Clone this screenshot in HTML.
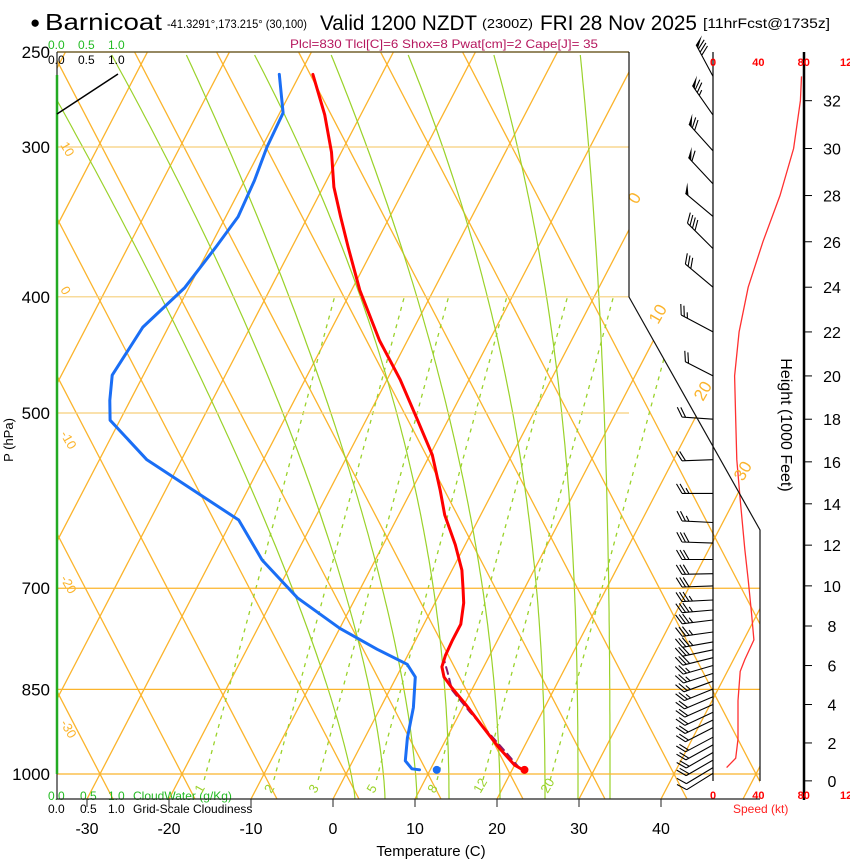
<!DOCTYPE html>
<html><head><meta charset="utf-8"><style>
html,body{margin:0;padding:0;background:#fff;}
svg{display:block;font-family:"Liberation Sans",sans-serif;}
</style></head><body>
<svg id="c" width="850" height="860" viewBox="0 0 850 860" xmlns="http://www.w3.org/2000/svg">
<defs><clipPath id="plotClip"><path d="M57,52 L629,52 L629,297 L760,530 L760,799 L57,799 Z"/></clipPath></defs>
<g id="grid" clip-path="url(#plotClip)"></g>
<g id="data"></g>
<g id="wind"></g>
<g id="txt">
<text x="30" y="28" font-size="17">●</text>
<text x="45" y="30" font-size="23" textLength="117" lengthAdjust="spacingAndGlyphs">Barnicoat</text>
<text x="167" y="28" font-size="12" textLength="140" lengthAdjust="spacingAndGlyphs">-41.3291°,173.215° (30,100)</text>
<text x="320" y="30" font-size="21" textLength="157" lengthAdjust="spacingAndGlyphs">Valid 1200 NZDT</text>
<text x="482" y="28" font-size="13" textLength="51" lengthAdjust="spacingAndGlyphs">(2300Z)</text>
<text x="540" y="30" font-size="21" textLength="157" lengthAdjust="spacingAndGlyphs">FRI 28 Nov 2025</text>
<text x="703" y="28" font-size="14" textLength="127" lengthAdjust="spacingAndGlyphs">[11hrFcst@1735z]</text>
<text x="290" y="48" font-size="12" fill="#b5175e" textLength="308" lengthAdjust="spacingAndGlyphs">Plcl=830 Tlcl[C]=6 Shox=8 Pwat[cm]=2 Cape[J]= 35</text>
<text x="13" y="440" font-size="13" transform="rotate(-90 13 440)" text-anchor="middle">P (hPa)</text>
<text x="431" y="856" font-size="15" text-anchor="middle">Temperature (C)</text>
<text x="781" y="425" font-size="16" transform="rotate(90 781 425)" text-anchor="middle">Height (1000 Feet)</text>
<text x="733" y="813" font-size="12" fill="#ff2020">Speed (kt)</text>
<g font-size="12" fill="#22bb22"><text x="48" y="49">0.0</text><text x="78" y="49">0.5</text><text x="108" y="49">1.0</text></g>
<g font-size="12" fill="#000"><text x="48" y="64">0.0</text><text x="78" y="64">0.5</text><text x="108" y="64">1.0</text></g>
<g font-size="12" fill="#22bb22"><text x="48" y="800">0.0</text><text x="80" y="800">0.5</text><text x="108" y="800">1.0</text><text x="133" y="800">CloudWater (g/Kg)</text></g>
<g font-size="12" fill="#000"><text x="48" y="813">0.0</text><text x="80" y="813">0.5</text><text x="108" y="813">1.0</text><text x="133" y="813">Grid-Scale Cloudiness</text></g>
</g>
</svg>
<script>
const NS="http://www.w3.org/2000/svg";
// ---- data ----
const tempP=[261,282,303,324,343,364,395,435,469,507,542,580,608,644,676,702,720,750,773,796,814,830,846,874,908,951,983,994];
const tempT=[-48.4,-44.4,-41.2,-38.7,-36.0,-33.1,-29.0,-23.4,-18.4,-13.7,-9.7,-6.5,-4.4,-1.2,1.2,2.6,3.5,4.5,4.5,4.6,4.9,5.8,7.3,10.1,13.2,17.0,20.0,21.6];
const dewP=[261,281,300,320,343,364,393,424,465,488,507,547,614,663,713,756,787,810,830,880,933,975,990,992];
const dewT=[-52.5,-49.6,-49.4,-48.8,-48.5,-49.3,-50.5,-53.1,-53.8,-52.5,-51.2,-44.2,-29.2,-23.8,-17.1,-10.0,-4.1,0.5,2.3,4.0,5.2,6.4,7.7,8.7];
const parcelP=[989,946,888,851,822,803];
const parcelT=[20.8,16.9,11.2,7.6,5.9,4.7];
const sfcP=992, sfcT=21.5, sfcTd=10.8;
const spdH=[0.7,1.2,2.2,4.2,5.7,6.3,7.3,8.6,10.3,11.8,14.2,16.1,18,20,22,24,26,28,30,32,33];
const spdV=[12,20,22,22,24,28,36,34,31,28,24,21,20,19,23,31,44,59,71,77,78];
const barbH=[33.0,31.4,29.9,28.5,27.1,25.7,24.0,22.0,20.0,18.0,16.1,14.5,13.1,12.1,11.3,10.6,10.0,9.3,8.8,8.3,7.7,7.2,6.8,6.4,6.0,5.6,5.2,4.8,4.4,4.0,3.6,3.2,2.8,2.3,1.9,1.5,1.1,0.7,0.4];
const barbDir=[332,325,318,317,310,315,310,298,297,274,268,270,273,272,270,269,268,267,265,263,262,260,258,256,254,252,250,248,247,246,245,244,243,242,241,240,240,239,238];
const pLevels=[250,300,400,500,700,850,1000];
const tTicks=[-30,-20,-10,0,10,20,30,40];
const hTicks=[0,2,4,6,8,10,12,14,16,18,20,22,24,26,28,30,32];
const spdTicks=[0,40,80,120];
const mixR=["1","2","3","5","8","12","20"];
const mixBottomT=[-17.3,-8.8,-3.4,3.7,11.1,16.7,24.9];
const isoLabels=[0,10,20,30];
const adiLabels=["10","0","-10","-20","-30"];
// ---- axes ----
const yP=p=>774-520.8*Math.log(1000/p);
const xT=(T,p)=>333+8.2*T+(799-yP(p))*0.52;
const yH=h=>{const p=1013.25*Math.pow(1-6.8756e-6*h*1000,5.2559);return yP(p);};
const xS=s=>713+1.135*s;
function mk(tag,attrs,parent){const e=document.createElementNS(NS,tag);for(const k in attrs)e.setAttribute(k,attrs[k]);parent.appendChild(e);return e;}
const grid=document.getElementById('grid'),data=document.getElementById('data'),wind=document.getElementById('wind'),txt=document.getElementById('txt'),svg=document.getElementById('c');
const OR="#fbb42c";
for(let T=-110;T<=60;T+=10){
 const x0=346+8.2*T;
 let l=mk('line',{x1:x0+(774-799)*0.52,y1:799,x2:x0+(774-40)*0.52,y2:40,stroke:OR,'stroke-width':1.3},grid);
 
 
 let a=mk('line',{x1:x0-(774-799)*0.52,y1:799,x2:x0-(774-40)*0.52,y2:40,stroke:OR,'stroke-width':1.3},grid);
 
 
}
const isoG=svg.insertBefore(document.createElementNS(NS,'g'),data);
pLevels.forEach(p=>{const y=yP(p);const up=p<700;
 const l=mk('line',{x1:57,y1:y,x2:up?629:760,y2:y,stroke:up?"#f6cf7a":OR,'stroke-width':1.2},isoG);
 
 
 const t=mk('text',{x:50,y:y+6,'font-size':17,'text-anchor':'end'},txt);t.textContent=p;
 
 
});
const maB=[610,578,545,500,449,417,385,355];
const maTop=[580,493,407,330,253,185,110,30];
const maP=[2.5,2.5,2.2,1.8,2,1.5,1.5,1.3];
maB.forEach((xb,i)=>{let d="";for(let y=799;y>=52;y-=6){const h=(799-y)/747;const x=xb-(xb-maTop[i])*Math.pow(h,maP[i]);d+=(d?"L":"M")+x.toFixed(1)+","+y;}
 const e=mk('path',{d:d,fill:'none',stroke:'#9ad22a','stroke-width':1.2},grid);
 
 });
mixBottomT.forEach((T,i)=>{const xb=333+8.2*T+25*0.52;const x1=xb,y1=780,x2=xb+0.27*483,y2=297;
 const e=mk('line',{x1:x1,y1:y1,x2:x2,y2:y2,stroke:'#9ad22a','stroke-width':1.3,'stroke-dasharray':'4,5'},grid);
 
 
 const t=mk('text',{x:xb-6,y:796,'font-size':13,fill:'#9ad22a',transform:`rotate(-60 ${xb-6} 792)`},txt);t.textContent=mixR[i];
 
 });
const isoPos={0:[637,205],10:[658,325],20:[703,402],30:[743,482]};
isoLabels.forEach(T=>{const [x,y]=isoPos[T];
 const t=mk('text',{x:x,y:y,'font-size':17,fill:OR,transform:`rotate(-60 ${x} ${y})`},txt);t.textContent=T;
 
 });
adiLabels.forEach((s,i)=>{const y=145+i*144.5,x=60;
 const t=mk('text',{x:x,y:y,'font-size':13,fill:OR,transform:`rotate(60 ${x} ${y})`},txt);t.textContent=s;
 
 });
[["M57,52 L629,52",'#5a4a1a'],["M629,52 L629,297 L760,530 L760,781","#111"],["M57,52 L57,799 L760,799","#222"]].forEach(([d,c])=>{const e=mk('path',{d:d,fill:'none',stroke:c,'stroke-width':1.2},svg);
 
 });
const cw=mk('line',{x1:57,y1:75,x2:57,y2:774,stroke:'#22aa22','stroke-width':2.5},svg);


const cl=mk('line',{x1:57,y1:114,x2:118,y2:74,stroke:'#000','stroke-width':1.5},svg);


tTicks.forEach(T=>{const x=333+8.2*T;
 const k=mk('line',{x1:x,y1:799,x2:x,y2:807,stroke:'#222'},svg);
 
 
 const t=mk('text',{x:x,y:834,'font-size':16,'text-anchor':'middle'},txt);t.textContent=T;
 
 });
function line(P,T,attrs,name){const d=P.map((p,i)=>(i?"L":"M")+xT(T[i],p).toFixed(1)+","+yP(p).toFixed(1)).join("");
 const e=mk('path',Object.assign({d:d,fill:'none','stroke-linejoin':'round','stroke-linecap':'round'},attrs),data);
 
 }
line(parcelP,parcelT,{stroke:'#8b1a6b','stroke-width':2,'stroke-dasharray':'7,5'},'parcel-path');
line(dewP,dewT,{stroke:'#1a6ef5','stroke-width':3},'dewpoint-line');
line(tempP,tempT,{stroke:'#ff0000','stroke-width':3},'temperature-line');
let c1=mk('circle',{cx:xT(sfcT,sfcP),cy:yP(sfcP),r:4,fill:'#ff0000'},data);


let c2=mk('circle',{cx:xT(sfcTd,sfcP),cy:yP(sfcP),r:4,fill:'#1a6ef5'},data);


[[713,52,713,781,1.2],[804,52,804,800,2.5]].forEach(([a,b,c,d,w])=>{const e=mk('line',{x1:a,y1:b,x2:c,y2:d,stroke:'#000','stroke-width':w},wind);
 
 });
hTicks.forEach(h=>{const y=yH(h);
 const k=mk('line',{x1:804,y1:y,x2:812,y2:y,stroke:'#000'},wind);
 
 
 const t=mk('text',{x:832,y:y+6,'font-size':16,'text-anchor':'middle'},wind);t.textContent=h;
 
 });
spdTicks.forEach(s=>{[66,799].forEach(y=>{const t=mk('text',{x:xS(s),y:y,'font-size':11,'font-weight':'bold',fill:'#ff0000','text-anchor':'middle'},wind);t.textContent=s;
 
 });});
const sd=spdH.map((h,i)=>(i?"L":"M")+xS(spdV[i]).toFixed(1)+","+yH(h).toFixed(1)).join("");
const sp=mk('path',{d:sd,fill:'none',stroke:'#ff3030','stroke-width':1.3},wind);


function spdAt(h){for(let i=0;i<spdH.length-1;i++){if(h<=spdH[i+1]){const f=Math.max(0,(h-spdH[i])/(spdH[i+1]-spdH[i]));return spdV[i]+f*(spdV[i+1]-spdV[i]);}}return spdV[spdV.length-1];}
barbH.forEach((h,i)=>{const y=yH(h),x=713;const th=(360-barbDir[i])*Math.PI/180;
 const ux=-Math.sin(th),uy=-Math.cos(th);const L=h>20?36:31;const tx=x+ux*L,ty=y+uy*L;
 const fa=60*Math.PI/180;const fx=ux*Math.cos(fa)-uy*Math.sin(fa),fy=ux*Math.sin(fa)+uy*Math.cos(fa);
 let s=Math.round(spdAt(h)/5)*5;let d=`M${x},${y.toFixed(1)}L${tx.toFixed(1)},${ty.toFixed(1)}`;let pos=0;let fl="";
 while(s>=50){const ax=tx-ux*pos,ay=ty-uy*pos,bx=tx-ux*(pos+4),by=ty-uy*(pos+4);fl+=`M${ax},${ay}L${ax+fx*11},${ay+fy*11}L${bx},${by}Z`;pos+=5;s-=50;}
 while(s>=10){const ax=tx-ux*pos,ay=ty-uy*pos;d+=`M${ax.toFixed(1)},${ay.toFixed(1)}l${(fx*11).toFixed(1)},${(fy*11).toFixed(1)}`;pos+=3.5;s-=10;}
 if(s>=5){if(pos===0)pos=3.5;const ax=tx-ux*pos,ay=ty-uy*pos;d+=`M${ax.toFixed(1)},${ay.toFixed(1)}l${(fx*6).toFixed(1)},${(fy*6).toFixed(1)}`;}
 const g=mk('path',{d:d,fill:'none',stroke:'#000','stroke-width':1.1},wind);
 
 
 if(fl){const f=mk('path',{d:fl,fill:'#000'},wind);
 
 }
});
</script>
</body></html>
